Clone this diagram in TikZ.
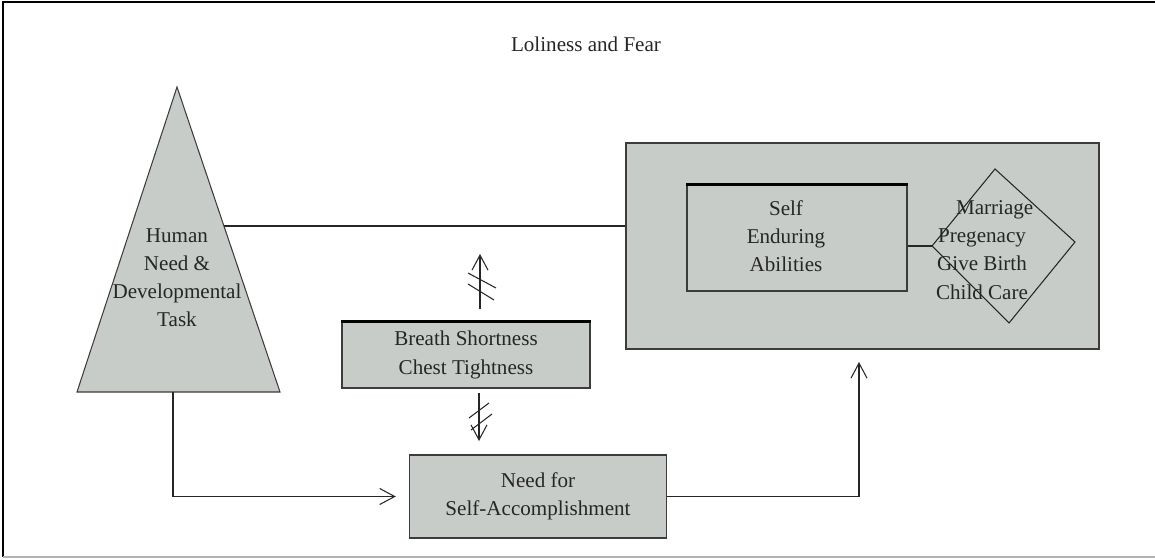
\documentclass[tikz,border=0pt]{standalone}
\usepackage{fontspec}
\setmainfont{Liberation Serif}
\usepackage{tikz}
\usetikzlibrary{arrows.meta,positioning,calc}
\definecolor{boxgray}{RGB}{200,204,200}
\definecolor{edgegray}{RGB}{60,60,60}

\tikzset{
  txt/.style={font=\fontsize{12}{16}\selectfont, text=black!85, align=center},
  grayfill/.style={draw=edgegray, line width=0.8pt, fill=boxgray},
  boxnode/.style={grayfill, rectangle, inner sep=0pt, txt},
  conn/.style={line width=0.6pt, draw=black!85},
  openarr/.style={conn, -{Straight Barb[length=0.3cm,width=0.32cm,line width=0.6pt]}},
  slash/.style={line width=0.6pt, draw=black!85}
}

\begin{document}
\begin{tikzpicture}[x=0.02cm,y=-0.02cm]
  \useasboundingbox (0,0) rectangle (1155,560);
  % Page frame
  \draw[line width=1pt] (1155,2) -- (3,2) -- (3,557);
  \draw[line width=1pt, black!30] (3,557) -- (1155,557);
  \node[txt] (title) at (586,44) {Loliness and Fear};

  % Triangle
  \coordinate (tri-top) at (177,87);
  \coordinate (tri-bl) at (77,392);
  \coordinate (tri-br) at (280,392);
  \filldraw[grayfill, line width=0.6pt] (tri-top) -- (tri-bl) -- (tri-br) -- cycle;
  \node[txt] (human) at (177,278) {Human\\Need \&\\Developmental\\Task};
  \coordinate (tri-e) at (224,226);
  \coordinate (tri-s) at (173,392);

  % Right block
  \node[boxnode, minimum width=9.46cm, minimum height=4.12cm] (outer) at (862.5,246) {};
  \node[boxnode, minimum width=4.4cm, minimum height=2.12cm] (self) at (797,238) {};
  \draw[line width=1.4pt] (self.north west) -- (self.north east);
  \node[txt] (selftext) at (786,236) {Self\\Enduring\\Abilities};
  \coordinate (dia-n) at (995,169);
  \coordinate (dia-w) at (932,246);
  \coordinate (dia-s) at (1009,323);
  \coordinate (dia-e) at (1075,242);
  \draw[conn] (dia-n) -- (dia-e) -- (dia-s) -- (dia-w) -- cycle;
  \node[txt] (tasks) at (982,250) {\hspace*{1.2em}Marriage\\Pregenacy\\Give Birth\\Child Care};
  \draw[conn] (self.east |- dia-w) -- (dia-w);

  % Middle boxes
  \node[boxnode, minimum width=4.96cm, minimum height=1.32cm] (breath) at (466,355) {Breath Shortness\\Chest Tightness};
  \draw[line width=1.4pt] (breath.north west) -- (breath.north east);
  \node[boxnode, minimum width=5.14cm, minimum height=1.66cm] (need) at (538,496.5) {Need for\\Self-Accomplishment};

  % Blocked arrows
  \coordinate (up-s) at (480,309);
  \coordinate (up-e) at (480,254);
  \draw[openarr] (up-s) -- (up-e);
  \draw[slash] (468,273) -- (496,288);
  \draw[slash] (468,284) -- (494,300);
  \coordinate (dn-s) at (479,393);
  \coordinate (dn-e) at (479,441);
  \draw[openarr] (dn-s) -- (dn-e);
  \draw[slash] (469,418) -- (489,403);
  \draw[slash] (471,430) -- (492,414);

  % Connectors
  \draw[conn] (tri-e) -- (tri-e -| outer.west);
  \draw[openarr] (tri-s) |- ([xshift=-0.26cm]need.west);
  \coordinate (out-tip) at (859,362);
  \draw[openarr] (need.east) -| (out-tip);
\end{tikzpicture}
\end{document}
